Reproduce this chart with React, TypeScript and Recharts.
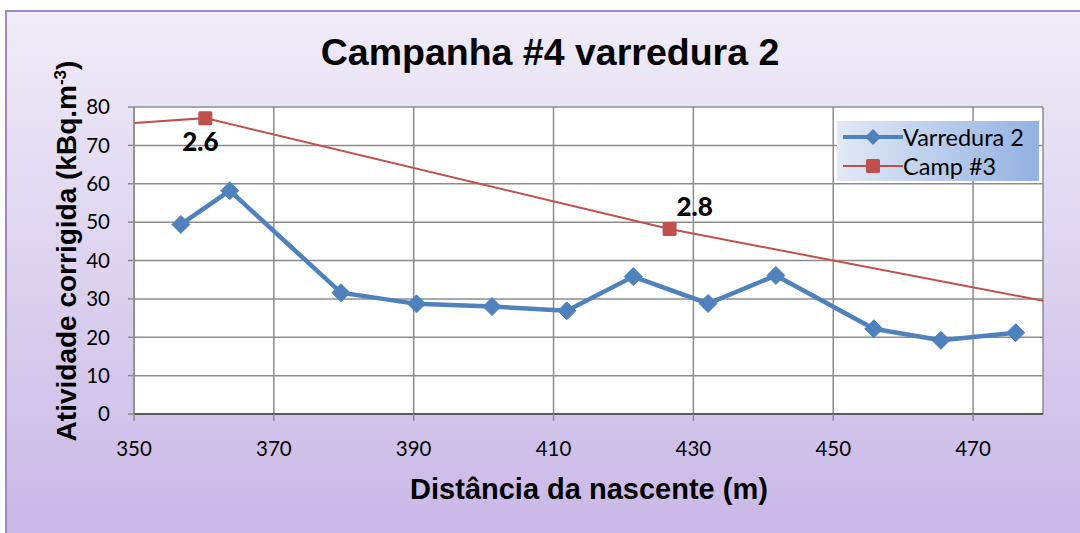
import { LineChart, Line, XAxis, YAxis, CartesianGrid, LabelList } from 'recharts';

// Varredura 2 (blue)
const distVarredura = [356.7, 363.7, 379.6, 390.4, 401.2, 411.9, 421.4, 432.1, 441.8, 455.8, 465.4, 476.1];
const atividadeVarredura = [49.4, 58.2, 31.6, 28.7, 28.0, 26.9, 35.8, 28.8, 36.1, 22.2, 19.2, 21.2];

// Camp #3 (red) - first and last points lie outside the visible x range
const distCamp = [345, 360.2, 426.6, 488];
const atividadeCamp = [75.2, 77.1, 48.2, 26.7];
const labelsCamp = ['', '2.6', '2.8', ''];

const xTicks = [350, 370, 390, 410, 430, 450, 470];
const yTicks = [0, 10, 20, 30, 40, 50, 60, 70, 80];

const varreduraData = distVarredura.map((x, i) => ({ x, y: atividadeVarredura[i] }));
const campData = distCamp.map((x, i) => ({ x, y: atividadeCamp[i], label: labelsCamp[i] }));

const BLUE = '#4F81BD';
const RED = '#C0504D';
const tickFont = { fill: '#000', fontSize: 20.5, fontFamily: 'Lato, "Open Sans", sans-serif' };

function Diamond(props: any) {
  const { cx, cy, index } = props;
  if (cx == null || cy == null) return <g key={index} />;
  const r = 9;
  return (
    <path
      key={index}
      d={`M${cx},${cy - r} L${cx + r},${cy} L${cx},${cy + r} L${cx - r},${cy} Z`}
      fill={BLUE}
      stroke={BLUE}
      strokeWidth={1}
    />
  );
}

function Square(props: any) {
  const { cx, cy, index, payload } = props;
  // markers only for the points inside the visible range
  if (cx == null || cy == null || payload.x < 350 || payload.x > 480) return <g key={index} />;
  const s = 7;
  return <rect key={index} x={cx - s} y={cy - s} width={2 * s} height={2 * s} rx={1.5} fill={RED} />;
}

function CampLabel(props: any) {
  const { x, y, value, index } = props;
  if (!value) return null;
  // first label sits under its marker, second above and to the right
  const dx = index === 1 ? -5 : 25;
  const dy = index === 1 ? 33 : -13;
  return (
    <text
      x={x + dx}
      y={y + dy}
      textAnchor="middle"
      fontSize={26}
      fontWeight={900}
      fontFamily='Lato, "Open Sans", sans-serif'
      fill="#000"
    >
      {value}
    </text>
  );
}

function LegendBox() {
  const row = (color: string, label: string, diamond: boolean) => (
    <div style={{ display: 'flex', alignItems: 'center', height: 29 }}>
      <svg width={62} height={20} style={{ marginLeft: 4 }}>
        <line x1={2} y1={10} x2={62} y2={10} stroke={color} strokeWidth={diamond ? 4 : 2} />
        {diamond ? (
          <path d="M32,2 L40,10 L32,18 L24,10 Z" fill={color} />
        ) : (
          <rect x={25} y={3} width={14} height={14} rx={1.5} fill={color} />
        )}
      </svg>
      <span style={{ fontSize: 23.5, fontFamily: 'Lato, "Open Sans", sans-serif', color: '#000', marginLeft: 0 }}>
        {label}
      </span>
    </div>
  );
  return (
    <div
      style={{
        position: 'absolute',
        left: 837,
        top: 121,
        width: 202,
        height: 60,
        boxSizing: 'border-box',
        paddingTop: 1,
        background: 'linear-gradient(to right, #E2E9F5, #93B1E2)'
      }}
    >
      {row(BLUE, 'Varredura 2', true)}
      {row(RED, 'Camp #3', false)}
    </div>
  );
}

export default function App() {
  return (
    <div style={{ position: 'absolute', left: 0, top: 0, width: 1080, height: 533, overflow: 'hidden', background: '#fff' }}>
      <div
        style={{
          position: 'absolute',
          left: 5,
          top: 10,
          width: 1090,
          height: 540,
          border: '2px solid #9E88C6',
          background: 'linear-gradient(to bottom, #F0ECF8, #C8B6E6)'
        }}
      />
      <div
        style={{
          position: 'absolute',
          left: 0,
          width: 1100,
          top: 31,
          textAlign: 'center',
          fontFamily: '"Liberation Sans", Arial, sans-serif',
          fontWeight: 'bold',
          fontSize: 37.5,
          color: '#000'
        }}
      >
        Campanha #4 varredura 2
      </div>
      <div
        style={{
          position: 'absolute',
          left: 0,
          width: 1178,
          top: 473,
          textAlign: 'center',
          fontFamily: '"Liberation Sans", Arial, sans-serif',
          fontWeight: 'bold',
          fontSize: 29,
          color: '#000'
        }}
      >
        Distância da nascente (m)
      </div>
      <div
        style={{
          position: 'absolute',
          left: 61 - 220,
          top: 251 - 17,
          width: 440,
          height: 34,
          lineHeight: '34px',
          transform: 'rotate(-90deg)',
          textAlign: 'center',
          fontFamily: '"Liberation Sans", Arial, sans-serif',
          fontWeight: 'bold',
          fontSize: 28,
          color: '#000',
          whiteSpace: 'nowrap'
        }}
      >
        Atividade corrigida (kBq.m<sup style={{ fontSize: 17 }}>-3</sup>)
      </div>
      <div style={{ position: 'absolute', left: 0, top: 0 }}>
        <LineChart width={1080} height={533} margin={{ top: 107, right: 37, bottom: 79, left: 84 }}>
          <CartesianGrid stroke="#8C8C8C" strokeWidth={1.5} fill="#fff" fillOpacity={1} />
          <XAxis
            type="number"
            dataKey="x"
            domain={[350, 480]}
            ticks={xTicks}
            allowDataOverflow
            height={40}
            tick={tickFont}
            tickSize={7}
            tickMargin={20}
            axisLine={{ stroke: '#595959', strokeWidth: 2 }}
            tickLine={{ stroke: '#8C8C8C', strokeWidth: 1.5 }}
          />
          <YAxis
            type="number"
            dataKey="y"
            domain={[0, 80]}
            ticks={yTicks}
            allowDataOverflow
            width={50}
            tick={tickFont}
            tickSize={6}
            tickMargin={18}
            axisLine={{ stroke: '#8C8C8C', strokeWidth: 1.5 }}
            tickLine={{ stroke: '#8C8C8C', strokeWidth: 1.5 }}
          />
          <Line
            data={campData}
            dataKey="y"
            name="Camp #3"
            stroke={RED}
            strokeWidth={2}
            dot={Square}
            activeDot={false}
            isAnimationActive={false}
          >
            <LabelList dataKey="label" content={CampLabel} />
          </Line>
          <Line
            data={varreduraData}
            dataKey="y"
            name="Varredura 2"
            stroke={BLUE}
            strokeWidth={4.5}
            dot={Diamond}
            activeDot={false}
            isAnimationActive={false}
          />
        </LineChart>
      </div>
      <LegendBox />
    </div>
  );
}
